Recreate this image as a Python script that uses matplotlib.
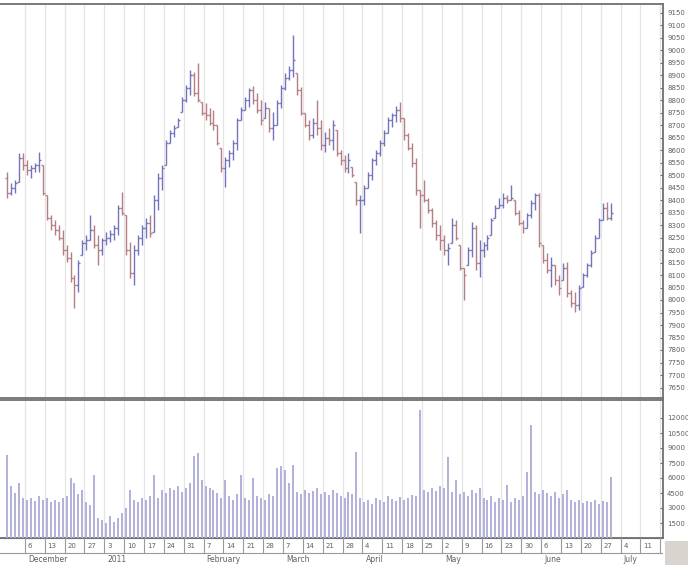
import numpy as np
import pandas as pd
import matplotlib
matplotlib.use("Agg")
import matplotlib.pyplot as plt
from matplotlib.patches import Rectangle

# ---------------- data ----------------
start_date = "2010-11-29"

highs = [8512, 8468, 8480, 8588, 8588, 8560, 8540, 8548, 8592, 8540,
         8420, 8340, 8320, 8300, 8280, 8220, 8192, 8100, 8160, 8240,
         8260, 8340, 8300, 8260, 8248, 8272, 8280, 8300, 8380, 8432,
         8340, 8232, 8220, 8260, 8300, 8328, 8340, 8420, 8508, 8540,
         8640, 8680, 8700, 8728, 8812, 8860, 8920, 8912, 8948, 8792,
         8788, 8768, 8760, 8700, 8608, 8572, 8600, 8640, 8728, 8772,
         8812, 8848, 8856, 8828, 8800, 8792, 8768, 8752, 8800, 8860,
         8908, 8936, 9060, 8908, 8852, 8748, 8720, 8728, 8800, 8720,
         8672, 8688, 8720, 8680, 8600, 8580, 8588, 8532, 8472, 8420,
         8460, 8512, 8568, 8600, 8640, 8680, 8732, 8748, 8776, 8792,
         8728, 8668, 8628, 8568, 8440, 8480, 8408, 8368, 8320, 8300,
         8260, 8228, 8328, 8320, 8220, 8128, 8212, 8312, 8300, 8240,
         8232, 8260, 8328, 8380, 8408, 8428, 8420, 8460, 8400, 8360,
         8320, 8348, 8400, 8428, 8428, 8220, 8188, 8172, 8140, 8100,
         8148, 8152, 8040, 8032, 8060, 8108, 8148, 8200, 8260, 8328,
         8388, 8392, 8388]

lows = [8408, 8420, 8428, 8472, 8520, 8500, 8488, 8512, 8512, 8420,
        8320, 8280, 8260, 8240, 8180, 8152, 8072, 7968, 8032, 8180,
        8200, 8240, 8208, 8140, 8180, 8220, 8232, 8240, 8260, 8340,
        8180, 8088, 8060, 8180, 8220, 8248, 8252, 8272, 8360, 8440,
        8540, 8628, 8652, 8692, 8752, 8792, 8820, 8816, 8792, 8740,
        8720, 8700, 8680, 8620, 8512, 8452, 8532, 8560, 8600, 8720,
        8760, 8772, 8784, 8748, 8700, 8728, 8672, 8640, 8700, 8768,
        8840, 8880, 8892, 8820, 8740, 8692, 8640, 8648, 8660, 8600,
        8592, 8620, 8600, 8576, 8540, 8512, 8508, 8492, 8380, 8268,
        8380, 8448, 8480, 8540, 8576, 8616, 8668, 8692, 8712, 8712,
        8640, 8600, 8532, 8420, 8288, 8392, 8348, 8292, 8240, 8200,
        8180, 8140, 8228, 8240, 8120, 8000, 8140, 8172, 8120, 8092,
        8172, 8200, 8260, 8328, 8368, 8368, 8388, 8400, 8340, 8300,
        8268, 8288, 8328, 8360, 8212, 8148, 8108, 8052, 8060, 8020,
        8080, 8012, 7972, 7952, 7960, 8052, 8092, 8132, 8192, 8248,
        8320, 8320, 8320]

closes = [8430, 8450, 8470, 8570, 8540, 8520, 8530, 8540, 8560, 8430,
          8330, 8300, 8280, 8250, 8200, 8170, 8090, 8060, 8150, 8230,
          8240, 8280, 8220, 8200, 8240, 8250, 8265, 8290, 8370, 8350,
          8200, 8110, 8200, 8250, 8290, 8310, 8270, 8400, 8490, 8530,
          8630, 8670, 8690, 8720, 8800, 8850, 8900, 8830, 8800, 8750,
          8740, 8710, 8700, 8630, 8530, 8560, 8590, 8630, 8720, 8760,
          8800, 8840, 8800, 8760, 8720, 8770, 8690, 8700, 8790, 8850,
          8890, 8920, 8960, 8840, 8750, 8700, 8660, 8710, 8690, 8620,
          8650, 8640, 8700, 8590, 8560, 8530, 8560, 8500, 8400, 8400,
          8450, 8500, 8560, 8590, 8630, 8670, 8720, 8740, 8760, 8730,
          8660, 8610, 8550, 8440, 8420, 8400, 8360, 8310, 8260, 8240,
          8200, 8210, 8300, 8250, 8130, 8100, 8200, 8290, 8150, 8200,
          8220, 8250, 8320, 8370, 8380, 8410, 8400, 8410, 8350, 8310,
          8290, 8340, 8390, 8420, 8230, 8160, 8120, 8140, 8080, 8050,
          8130, 8030, 7990, 7980, 8050, 8100, 8140, 8190, 8250, 8320,
          8370, 8330, 8350]
first_open = 8490

volumes = [8300, 5200, 4500, 5500, 4000, 3800, 4000, 3700, 4200, 3800,
           4000, 3600, 3800, 3600, 4000, 4200, 6000, 5500, 4400, 4800,
           3600, 3300, 6300, 2000, 1800, 1500, 2200, 1600, 2000, 2500,
           3000, 4800, 3800, 3600, 4000, 3800, 4200, 6300, 4000, 4800,
           4500, 5000, 4800, 5200, 4600, 5000, 5500, 8200, 8500, 5800,
           5200, 5000, 4800, 4500, 4000, 5800, 4200, 3800, 4400, 6300,
           4000, 3800, 6000, 4200, 4000, 3800, 4400, 4200, 7000, 7200,
           6800, 5500, 7300, 4600, 4400, 4800, 4500, 4700, 5000, 4400,
           4600, 4300, 4800, 4500, 4200, 4000, 4600, 4400, 8600, 4000,
           3600, 3800, 3400, 4000, 3800, 3600, 4200, 3900, 3700, 4100,
           3800, 4000, 4300, 4200, 12800, 4800, 4600, 5000, 4700, 5200,
           5000, 8100, 4600, 5800, 4400, 4600, 4200, 4800, 4500, 5000,
           4000, 3800, 4200, 3600, 4000, 3800, 5300, 3600, 4000, 3800,
           4200, 6600, 11300, 4600, 4400, 4800, 4500, 4200, 4600, 4000,
           4400, 4800, 3800, 3600, 3800, 3500, 3700, 3600, 3800, 3400,
           3700, 3600, 6100]

month_names = ["December", "2011", "February", "March", "April", "May", "June", "July"]
price_ticks = list(range(7650, 9151, 50))
volume_ticks = list(range(1500, 12001, 1500))

# ---------------- derived ----------------
highs = np.array(highs, float)
lows = np.array(lows, float)
closes = np.array(closes, float)
opens = np.clip(np.r_[first_open, closes[:-1]], lows, highs)
volumes = np.array(volumes, float)
n = len(closes)
x = np.arange(n)
calendar = pd.bdate_range(start_date, periods=n + 20)

UP = "#7474bc"
DOWN = "#b47f82"
GRID = "#e4e4e4"
FRAME = "#707070"
TXT = "#606060"

W, H = 688, 565
fig = plt.figure(figsize=(W / 100, H / 100), dpi=100)
fig.patch.set_facecolor("white")

xl = (-1.76, 165.2)
ax = fig.add_axes([0, 167 / H, 663 / W, 394 / H])
axv = fig.add_axes([0, 27 / H, 663 / W, 138 / H])
axd = fig.add_axes([0, 0, 663 / W, 27 / H])

# week boundaries (before each Monday)
mondays = [i for i, d in enumerate(calendar) if d.weekday() == 0 and i > 0]
grid_pos = [i - 0.5 for i in mondays]

for a in (ax, axv):
    a.set_xlim(*xl)
    for g in grid_pos:
        a.axvline(g, color=GRID, lw=0.9, zorder=0)
    a.set_xticks([])
    a.spines["left"].set_visible(False)
    for s in ("top", "right", "bottom"):
        a.spines[s].set_color(FRAME)
        a.spines[s].set_linewidth(1.3)

# price OHLC bars
colors = np.where(closes >= opens, UP, DOWN)
ax.vlines(x, lows, highs, colors=colors, lw=1.0, zorder=3)
ax.hlines(opens, x - 0.5, x, colors=colors, lw=1.0, zorder=3)
ax.hlines(closes, x, x + 0.5, colors=colors, lw=1.0, zorder=3)
ax.set_ylim(7608, 9184)
ax.yaxis.tick_right()
ax.set_yticks(price_ticks)
ax.set_yticklabels([str(t) for t in price_ticks])
ax.tick_params(axis="y", labelsize=5, length=2.5, direction="in", pad=3,
               colors=FRAME, labelcolor=TXT)

# volume bars
axv.vlines(x, 0, volumes, colors="#b0b0da", lw=1.4, zorder=3)
axv.set_ylim(0, 13800)
axv.yaxis.tick_right()
axv.set_yticks(volume_ticks)
axv.set_yticklabels([str(t) for t in volume_ticks])
axv.tick_params(axis="y", labelsize=5, length=2.5, direction="in", pad=3,
                colors=FRAME, labelcolor=TXT)

# date axis strip
axd.set_xlim(*xl)
axd.set_ylim(0, 1)
axd.axis("off")
mid = 12 / 27
axd.axhline(mid, color="#9a9a9a", lw=0.8)
axd.axhline(0.99, color=FRAME, lw=0.8)
for m, g in zip(mondays, grid_pos):
    if g > xl[1]:
        break
    axd.plot([g, g], [mid, 1.0], color="#9a9a9a", lw=0.8)
    axd.text(m + 0.2, (mid + 1) / 2, str(calendar[m].day), fontsize=5,
             color=TXT, ha="left", va="center")

# month labels at first Monday of each month
first_mondays = []
seen = set()
for m in mondays:
    key = (calendar[m].year, calendar[m].month)
    if key not in seen:
        seen.add(key)
        first_mondays.append(m)
for name, m in zip(month_names, first_mondays):
    axd.text(m + 0.3, mid / 2, name, fontsize=5.5, color=TXT, ha="left", va="center")

fig.patches.append(Rectangle((665 / W, 0), 23 / W, 24 / H, transform=fig.transFigure,
                             facecolor="#d8d5ce", edgecolor="none"))

fig.savefig("out.png", dpi=100)
